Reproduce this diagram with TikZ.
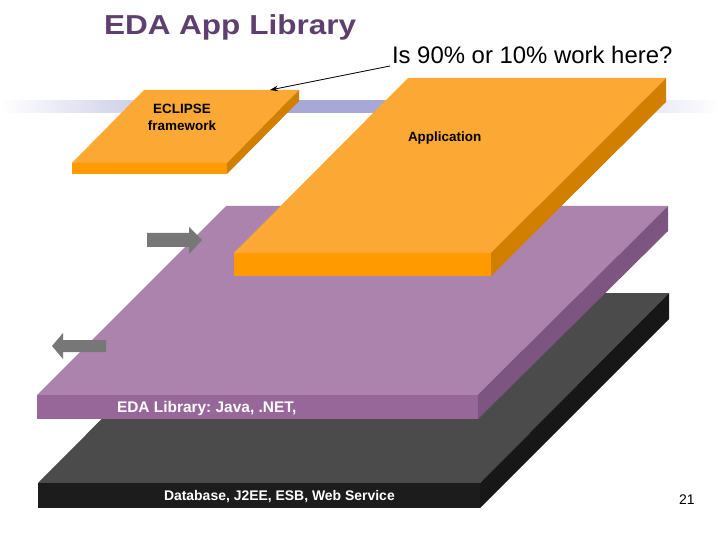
\documentclass[tikz,border=0pt]{standalone}
\usepackage{fontspec}
\setmainfont{Liberation Sans}
\usetikzlibrary{arrows.meta}
\frenchspacing
\definecolor{orangeTop}{HTML}{FBA834}
\definecolor{orangeFront}{HTML}{FF9A00}
\definecolor{orangeSide}{HTML}{D17F00}
\definecolor{purpleTop}{HTML}{AB83AD}
\definecolor{purpleFront}{HTML}{986799}
\definecolor{purpleSide}{HTML}{7C5581}
\definecolor{darkTop}{HTML}{4B4B4B}
\definecolor{darkFront}{HTML}{1C1C1C}
\definecolor{darkSide}{HTML}{171717}
\definecolor{titlePurple}{HTML}{5E3F6E}
\definecolor{bandLav}{HTML}{A8A8D8}
\definecolor{arrowGray}{HTML}{777777}
\pgfdeclarehorizontalshading{bandshade}{100bp}{color(0bp)=(white); color(25bp)=(white); color(42bp)=(bandLav); color(57bp)=(bandLav); color(75bp)=(white); color(100bp)=(white)}
\tikzset{
  label/.style={inner sep=0pt, outer sep=0pt},
  whitelabel/.style={label, text=white, font=\bfseries},
  grayarrow/.style={fill=arrowGray},
}
\begin{document}
\begin{tikzpicture}[x=1bp,y=-1bp]
\useasboundingbox (0,0) rectangle (720,540);
\fill[white] (0,0) rectangle (720,540);
% horizontal band
\shade[shading=bandshade] (0,101) rectangle (720,113);
% dark slab
\fill[darkTop] (38,483) -- (480,483) -- (669,293) -- (227,293) -- cycle;
\fill[darkFront] (38,483) rectangle (480,508);
\fill[darkSide] (480,483) -- (669,293) -- (669,319) -- (480,508) -- cycle;
% purple slab
\fill[purpleTop] (37,395) -- (478,395) -- (668,206) -- (226,206) -- cycle;
\fill[purpleFront] (37,395) rectangle (478,419);
\fill[purpleSide] (478,395) -- (668,206) -- (668,231) -- (478,419) -- cycle;
% application slab
\fill[orangeTop] (234,253) -- (491,253) -- (666,78) -- (408,78) -- cycle;
\fill[orangeFront] (234,253) rectangle (491,276);
\fill[orangeSide] (491,253) -- (666,78) -- (666,102) -- (491,276) -- cycle;
% eclipse slab
\fill[orangeTop] (72,163) -- (227,163) -- (299,90) -- (144,90) -- cycle;
\fill[orangeFront] (72,163) rectangle (227,174);
\fill[orangeSide] (227,163) -- (299,90) -- (299,101) -- (227,174) -- cycle;
% gray arrows
\fill[grayarrow] (147,233) -- (189,233) -- (189,227) -- (202,240) -- (189,254) -- (189,247) -- (147,247) -- cycle;
\fill[grayarrow] (106,340) -- (63,340) -- (63,333) -- (52,346) -- (63,359) -- (63,352) -- (106,352) -- cycle;
% texts
\node[label, anchor=base west, text=titlePurple] (title) at (104,35)
  {\scalebox{1.15}[1]{\fontsize{27.5}{30}\selectfont\bfseries EDA App Library}};
\node[label, anchor=base west] (question) at (392,64)
  {\fontsize{24}{27}\selectfont Is 90\% or 10\% work here?};
\node[label, align=center, font=\fontsize{13.5}{17}\selectfont\bfseries, text=black] (eclipse) at (182,117)
  {ECLIPSE\\framework};
\node[label, anchor=base west, font=\fontsize{13.5}{16}\selectfont\bfseries] (app) at (408,142)
  {Application};
\node[whitelabel, anchor=base west, font=\fontsize{15.5}{18}\selectfont\bfseries] (edalib) at (117,412)
  {EDA Library: Java, .NET,};
\node[whitelabel, anchor=base west, font=\fontsize{14}{17}\selectfont\bfseries] (db) at (164,500)
  {Database, J2EE, ESB, Web Service};
\node[label, anchor=base west, font=\fontsize{14}{16}\selectfont] (pagenum) at (679,504) {21};
% question arrow
\coordinate (qstart) at (390,66);
\coordinate (etip) at (270,90);
\draw[line width=0.8bp, -{Stealth[length=8bp,width=5.5bp]}] (qstart) -- (etip);
\end{tikzpicture}
\end{document}
